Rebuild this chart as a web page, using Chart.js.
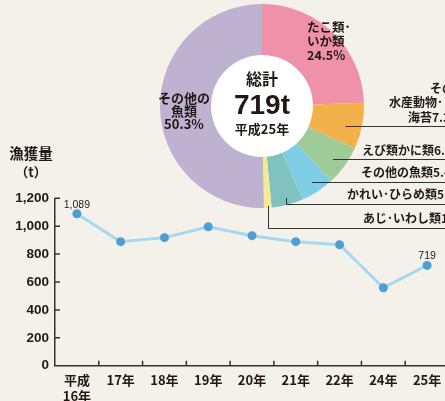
<!DOCTYPE html>
<html>
<head>
<meta charset="utf-8">
<script src="https://cdn.jsdelivr.net/npm/chart.js@4.4.0/dist/chart.umd.min.js"></script>
<style>
html, body { margin: 0; padding: 0; background: #f4f1ea; overflow: hidden; width: 445px; height: 401px; }
#wrap { position: relative; width: 470px; height: 401px; }
#line, #pie { position: absolute; left: 0; top: 0; }
</style>
</head>
<body>
<div id="wrap">
  <canvas id="line" width="470" height="401" style="width:470px;height:401px"></canvas>
  <canvas id="pie" width="470" height="240" style="width:470px;height:240px"></canvas>
</div>
<script>
// line chart data
var years = [["平成", "16年"], "17年", "18年", "19年", "20年", "21年", "22年", "24年", "25年"];
var catchTons = [1089, 889, 918, 996, 932, 889, 867, 559, 719];
var yMin = 0, yMax = 1200, yStep = 200;

// doughnut data (平成25年)
var pieNames = ["たこ類･\nいか類", "その他の\n水産動物･\n海苔", "えび類かに類", "その他の魚類", "かれい･ひらめ類", "あじ･いわし類", "その他の\n魚類"];
var pieValues = [24.5, 7.3, 6.3, 5.4, 5.0, 1.2, 50.3];
var pieColors = ["#ef91a9", "#f2b14a", "#9fcb96", "#80cde6", "#80c2bf", "#f6e98e", "#bdb3d1"];
var totalText = "719t";
var totalYear = "平成25年";

var JP = '"Noto Sans CJK JP", sans-serif';
var LAT = '"Liberation Sans", Arial, sans-serif';
var INK = "#231815";

Chart.defaults.font.family = JP;
Chart.defaults.color = INK;

function fmt(v) { return v.toLocaleString("en-US"); }

var lineDeco = {
  id: "lineDeco",
  afterDraw: function (chart) {
    var ctx = chart.ctx;
    var xs = chart.scales.x, ys = chart.scales.y;
    var bottom = chart.chartArea.bottom, left = chart.chartArea.left;
    ctx.save();
    ctx.strokeStyle = "#333";
    ctx.lineWidth = 1.5;
    ctx.beginPath();
    // inward tick marks between categories
    for (var i = 1; i <= years.length; i++) {
      var x = (xs.getPixelForValue(i - 1) + xs.getPixelForValue(i)) / 2;
      ctx.moveTo(x, bottom);
      ctx.lineTo(x, bottom - 5);
    }
    for (var v = yMin + yStep; v <= yMax; v += yStep) {
      var y = ys.getPixelForValue(v);
      ctx.moveTo(left, y);
      ctx.lineTo(left + 5, y);
    }
    ctx.stroke();

    // value labels on first and last point
    var meta = chart.getDatasetMeta(0);
    ctx.fillStyle = INK;
    ctx.textAlign = "center";
    ctx.textBaseline = "middle";
    ctx.font = "10.5px " + LAT;
    [0, catchTons.length - 1].forEach(function (k) {
      var p = meta.data[k];
      ctx.fillText(fmt(catchTons[k]), p.x, p.y - 9);
    });

    // axis title
    ctx.font = "bold 14.5px " + JP;
    ctx.fillText("漁獲量", 31, 153);
    ctx.font = "bold 13px " + JP;
    ctx.fillText("（t）", 31, 172);
    ctx.restore();
  }
};

new Chart(document.getElementById("line"), {
  type: "line",
  data: {
    labels: years,
    datasets: [{
      data: catchTons,
      borderColor: "#a8d8ee",
      borderWidth: 3,
      pointBackgroundColor: "#4f9fd3",
      pointBorderWidth: 0,
      pointRadius: 4.5,
      tension: 0,
      clip: false
    }]
  },
  options: {
    responsive: false,
    animation: false,
    layout: { padding: { top: 198.3, right: 21, bottom: 0, left: 0 } },
    plugins: { legend: { display: false }, tooltip: { enabled: false } },
    scales: {
      x: {
        offset: true,
        grid: { display: true, drawOnChartArea: false, drawTicks: false },
        border: { display: true, color: "#333", width: 1.5 },
        ticks: { color: INK, padding: 6, maxRotation: 0, autoSkip: false,
                 font: { family: JP, size: 13, weight: "bold", lineHeight: 1.25 } },
        afterFit: function (s) { s.height = 35.3; }
      },
      y: {
        min: yMin, max: yMax,
        grid: { display: true, drawOnChartArea: false, drawTicks: false },
        border: { display: true, color: "#333", width: 1.5 },
        ticks: { stepSize: yStep, color: INK, padding: 6,
                 font: { family: LAT, size: 13.5, weight: "bold" },
                 callback: function (v) { return fmt(v); } },
        afterFit: function (s) { s.width = 55; }
      }
    }
  },
  plugins: [lineDeco]
});

function pct(v) { return v.toFixed(1) + "%"; }

var pieDeco = {
  id: "pieDeco",
  beforeDatasetsDraw: function (chart) {
    var a = chart.getDatasetMeta(0).data[0];
    var ctx = chart.ctx;
    ctx.save();
    ctx.fillStyle = "#ffffff";
    ctx.beginPath();
    ctx.arc(a.x, a.y, a.innerRadius, 0, Math.PI * 2);
    ctx.fill();
    ctx.restore();
  },
  afterDatasetsDraw: function (chart) {
    var ctx = chart.ctx;
    var arcs = chart.getDatasetMeta(0).data;
    var cx = arcs[0].x, cy = arcs[0].y;
    ctx.save();
    ctx.fillStyle = INK;
    ctx.textBaseline = "middle";

    // centre
    ctx.textAlign = "center";
    ctx.font = "bold 16px " + JP;
    ctx.fillText("総計", cx, 79);
    ctx.font = "bold 28px " + LAT;
    ctx.fillText(totalText, cx, 106);
    ctx.font = "bold 13px " + JP;
    ctx.fillText(totalYear, cx, 129);

    // labels inside the ring
    var l0 = pieNames[0].split("\n").concat([pct(pieValues[0])]);
    ctx.textAlign = "left";
    ctx.font = "bold 12.5px " + JP;
    l0.forEach(function (t, i) { ctx.fillText(t, 307, 27 + i * 14); });
    var l6 = pieNames[6].split("\n").concat([pct(pieValues[6])]);
    ctx.textAlign = "center";
    ctx.font = "bold 13px " + JP;
    l6.forEach(function (t, i) { ctx.fillText(t, 184, 98 + i * 13); });

    // outside labels with leader lines
    ctx.textAlign = "left";
    ctx.font = "bold 12px " + JP;
    var l1 = pieNames[1].split("\n");
    l1[l1.length - 1] += pct(pieValues[1]);
    var l1x = [430, 389, 408];
    l1.forEach(function (t, i) { ctx.fillText(t, l1x[i], 88 + i * 14.5); });
    [[2, 362, 150], [3, 361, 172], [4, 347, 194], [5, 363, 218]].forEach(function (r) {
      ctx.fillText(pieNames[r[0]] + pct(pieValues[r[0]]), r[1], r[2]);
    });

    ctx.strokeStyle = "#333";
    ctx.lineWidth = 1;
    // horizontal leaders starting inside the slice
    [[1, 126, 86], [2, 159, 88.6], [3, 182, 91]].forEach(function (r) {
      var dy = r[1] - cy;
      var x0 = cx + Math.sqrt(r[2] * r[2] - dy * dy);
      ctx.beginPath();
      ctx.moveTo(x0, r[1] + 0.5);
      ctx.lineTo(chart.width, r[1] + 0.5);
      ctx.stroke();
    });
    // leaders that go down first
    [[4, 204, 95], [5, 228, 100]].forEach(function (r) {
      var a = arcs[r[0]];
      var mid = (a.startAngle + a.endAngle) / 2;
      var px = Math.round(cx + Math.cos(mid) * r[2]) + 0.5;
      var py = cy + Math.sin(mid) * r[2];
      ctx.beginPath();
      ctx.moveTo(px, py);
      ctx.lineTo(px, r[1] + 0.5);
      ctx.lineTo(chart.width, r[1] + 0.5);
      ctx.stroke();
    });
    ctx.restore();
  }
};

new Chart(document.getElementById("pie"), {
  type: "doughnut",
  data: {
    labels: pieNames,
    datasets: [{
      data: pieValues,
      backgroundColor: pieColors,
      borderWidth: 0
    }]
  },
  options: {
    responsive: false,
    animation: false,
    cutout: "50%",
    layout: { padding: { left: 160, right: 106, top: 4, bottom: 32 } },
    plugins: { legend: { display: false }, tooltip: { enabled: false } }
  },
  plugins: [pieDeco]
});
</script>
</body>
</html>
